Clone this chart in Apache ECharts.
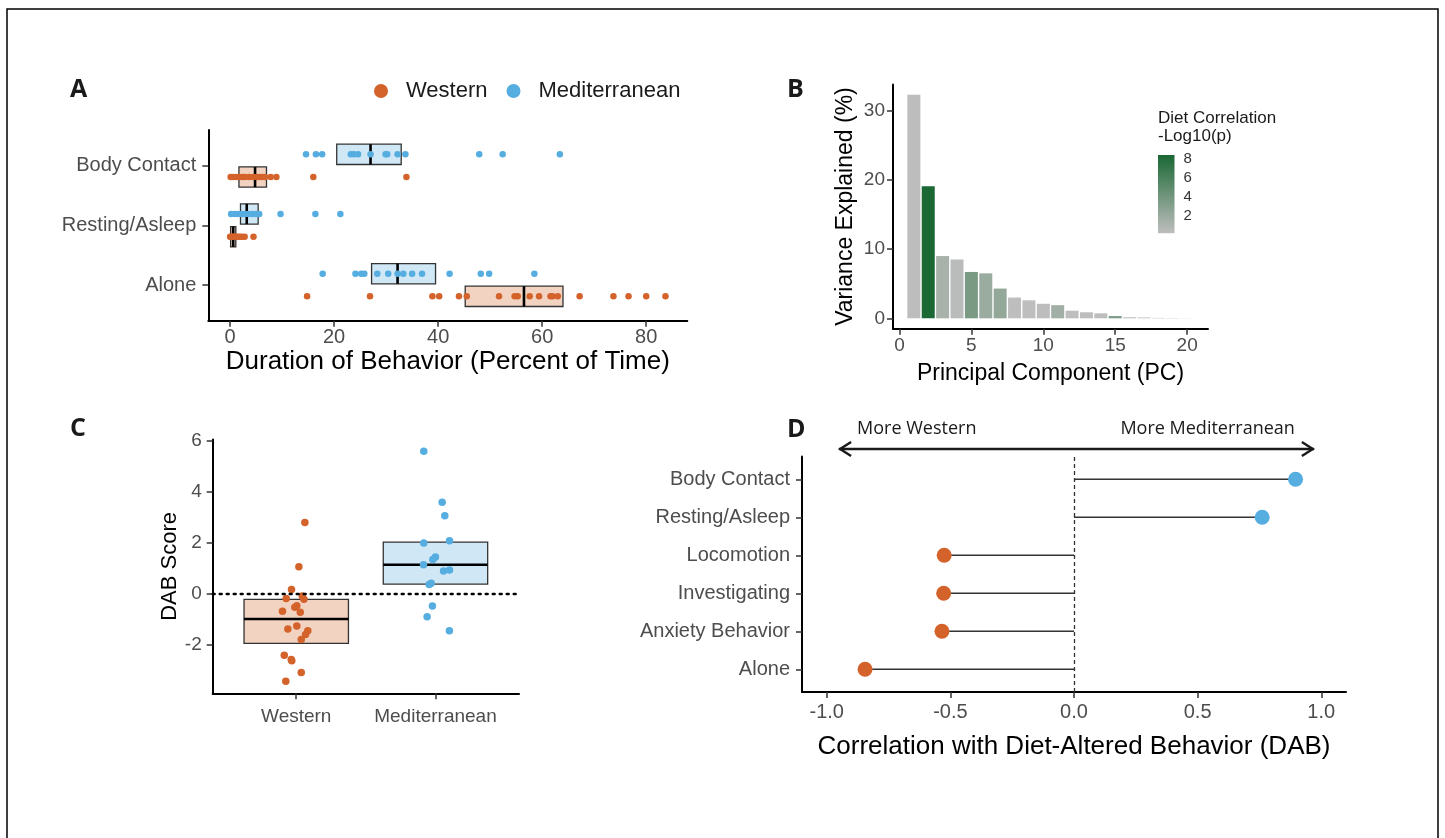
<!DOCTYPE html>
<html>
<head>
<meta charset="utf-8">
<script src="https://cdn.jsdelivr.net/npm/echarts@6/dist/echarts.min.js"></script>
<style>
  html, body { margin: 0; padding: 0; background: #fff; }
  #main { width: 1445px; height: 838px; }
</style>
</head>
<body>
<div id="main"></div>
<script>
// ---- data ----

// A: duration of behaviour (percent of time)
var behaviorsA = ['Alone', 'Resting/Asleep', 'Body Contact'];
var westAlone = [14.8, 26.9, 38.9, 40.2, 44.0, 45.5, 51.7, 54.7, 55.3, 57.6, 59.4, 61.6, 62.0, 63.0, 67.2, 73.7, 76.6, 80.0, 83.7];
var westRest = [0.0, 0.2, 0.4, 0.6, 0.9, 1.2, 1.5, 1.9, 2.3, 2.8, 4.5];
var westBody = [0.1, 0.6, 1.2, 1.8, 2.4, 2.9, 3.7, 4.5, 5.1, 5.6, 6.2, 6.7, 7.8, 8.9, 16.0, 33.9];
var medAlone = [17.8, 24.1, 25.2, 25.8, 28.3, 30.4, 32.2, 33.3, 35.0, 36.9, 42.2, 48.2, 49.8, 58.5];
var medRest = [0.2, 0.9, 1.5, 2.2, 2.8, 3.5, 4.2, 5.0, 5.6, 9.7, 16.4, 21.2];
var medBody = [14.6, 16.5, 17.7, 23.2, 23.8, 24.6, 27.0, 29.9, 30.2, 32.2, 33.7, 47.9, 52.4, 63.4];
// [q1, median, q3] for Alone, Resting/Asleep, Body Contact
var westBoxA = [[45.2, 56.5, 64.0], [0.1, 0.6, 1.1], [1.7, 4.8, 7.0]];
var medBoxA = [[27.2, 32.2, 39.5], [2.0, 3.2, 5.4], [20.5, 27.0, 32.9]];

// B: variance explained per PC, coloured by diet correlation -log10(p)
var pcIndex = [1, 2, 3, 4, 5, 6, 7, 8, 9, 10, 11, 12, 13, 14, 15, 16, 17, 18, 19, 20];
var varExplained = [32.3, 19.1, 9.0, 8.5, 6.7, 6.5, 4.3, 3.0, 2.6, 2.1, 1.9, 1.1, 0.87, 0.72, 0.33, 0.15, 0.12, 0.06, 0.04, 0.02];
var dietLogP = [0.3, 8.35, 1.3, 0.4, 3.6, 2.0, 2.3, 0.2, 0.2, 0.3, 1.6, 0.2, 0.3, 0.3, 3.3, 0.5, 0.3, 0.3, 0.3, 0.3];
var logPRange = [0.2, 8.35];
var colorbarTicks = [2, 4, 6, 8];

// C: DAB score per animal, with horizontal jitter
var dietGroups = ['Western', 'Mediterranean'];
var westDab = [2.81, 1.07, 0.18, -0.17, -0.08, -0.2, -0.67, -0.52, -0.46, -0.71, -1.37, -1.25, -1.44, -1.58, -1.78, -2.4, -2.56, -2.61, -3.07, -3.42];
var westDabJitter = [0.062, 0.019, -0.034, -0.072, 0.043, 0.055, -0.099, -0.01, 0.004, 0.029, -0.06, 0.004, 0.083, 0.067, 0.036, -0.086, -0.036, -0.032, 0.036, -0.075];
var medDab = [5.6, 3.6, 3.07, 2.0, 2.09, 1.45, 1.36, 1.15, 0.9, 0.94, 0.38, 0.42, -0.47, -0.89, -1.44];
var medDabJitter = [-0.084, 0.048, 0.067, -0.084, 0.101, 0, -0.019, -0.086, 0.058, 0.101, -0.045, -0.031, -0.022, -0.06, 0.1];
var westBoxC = [-1.93, -0.98, -0.21];
var medBoxC = [0.39, 1.15, 2.04];

// D: correlation with DAB
var behaviorsD = ['Alone', 'Anxiety Behavior', 'Investigating', 'Locomotion', 'Resting/Asleep', 'Body Contact'];
var corrDab = [-0.845, -0.534, -0.527, -0.525, 0.761, 0.896];
var arrowSpan = [-0.95, 0.97];

// ---- styling ----
var WEST = '#D4622B';
var MED = '#55ADE0';
var WEST_FILL = '#F2D3C2';
var MED_FILL = '#D0E7F5';
var FONT = 'Liberation Sans';
var DODGE = 0.19;
var HALF_A = 0.17;
var HALF_C = 0.375;

function dodge(vals, cat, off) {
	return vals.map(function (v) { return [v, cat + off]; });
}

function axisBase(extra) {
	var o = {
		type: 'value',
		axisLine: { show: true, onZero: false, lineStyle: { color: '#000', width: 2 } },
		axisTick: { show: true, length: 6, lineStyle: { color: '#333', width: 1.5 } },
		axisLabel: { color: '#4D4D4D', fontFamily: FONT, fontSize: 20 },
		splitLine: { show: false },
		nameTextStyle: { color: '#000', fontFamily: FONT, fontSize: 26 },
		nameLocation: 'middle'
	};
	for (var k in extra) {
		if (typeof extra[k] === 'object' && o[k] && !Array.isArray(extra[k])) {
			o[k] = Object.assign({}, o[k], extra[k]);
		} else {
			o[k] = extra[k];
		}
	}
	return o;
}

// crossbar without whiskers (horizontal for A)
function crossbarH(fill) {
	return function (params, api) {
		var y = api.value(0), q1 = api.value(1), md = api.value(2), q3 = api.value(3);
		var a = api.coord([q1, y + HALF_A]);
		var b = api.coord([q3, y - HALF_A]);
		var m1 = api.coord([md, y + HALF_A]);
		var m2 = api.coord([md, y - HALF_A]);
		return {
			type: 'group', children: [
				{ type: 'rect', shape: { x: a[0], y: a[1], width: b[0] - a[0], height: b[1] - a[1] }, style: { fill: fill, stroke: '#333', lineWidth: 1.3 } },
				{ type: 'line', shape: { x1: m1[0], y1: m1[1], x2: m2[0], y2: m2[1] }, style: { stroke: '#000', lineWidth: 2.6 } }
			]
		};
	};
}

// vertical crossbar for C
function crossbarV(fill) {
	return function (params, api) {
		var x = api.value(0), q1 = api.value(1), md = api.value(2), q3 = api.value(3);
		var a = api.coord([x - HALF_C, q3]);
		var b = api.coord([x + HALF_C, q1]);
		var m1 = api.coord([x - HALF_C, md]);
		var m2 = api.coord([x + HALF_C, md]);
		return {
			type: 'group', children: [
				{ type: 'rect', shape: { x: a[0], y: a[1], width: b[0] - a[0], height: b[1] - a[1] }, style: { fill: fill, stroke: '#333', lineWidth: 1.3 } },
				{ type: 'line', shape: { x1: m1[0], y1: m1[1], x2: m2[0], y2: m2[1] }, style: { stroke: '#000', lineWidth: 2.6 } }
			]
		};
	};
}

var chart = echarts.init(document.getElementById('main'));

var option = {
	backgroundColor: '#fff',
	animation: false,
	legend: {
		data: ['Western', 'Mediterranean'],
		left: 369, top: 75,
		icon: 'circle',
		itemWidth: 14, itemHeight: 14, itemGap: 19,
		textStyle: { fontFamily: FONT, fontSize: 22, color: '#1a1a1a', padding: [0, 0, 0, 13] }
	},
	visualMap: {
		type: 'continuous', show: false, seriesIndex: 4, dimension: 2,
		min: logPRange[0], max: logPRange[1],
		inRange: { color: ['#BEBEBE', '#1A6834'] }
	},
	grid: [
		{ left: 208.3, top: 129.9, width: 479, height: 190.9, outerBoundsMode: 'none' },
		{ left: 893, top: 84.4, width: 315, height: 244.3, outerBoundsMode: 'none' },
		{ left: 1158, top: 155, width: 16.5, height: 78.3, outerBoundsMode: 'none' },
		{ left: 212.7, top: 439.5, width: 306.3, height: 253.8, outerBoundsMode: 'none' },
		{ left: 802, top: 456.5, width: 544, height: 235.6, outerBoundsMode: 'none' }
	],
	xAxis: [
		axisBase({
			gridIndex: 0, min: -4.19, max: 87.9,
			name: 'Duration of Behavior (Percent of Time)', nameGap: 23,
			axisTick: { customValues: [0, 20, 40, 60, 80] },
			axisLabel: { customValues: [0, 20, 40, 60, 80], margin: 7 }
		}),
		axisBase({
			gridIndex: 1, min: -0.45, max: 21.45,
			name: 'Principal Component (PC)', nameGap: 33,
			nameTextStyle: { fontSize: 23 },
			axisTick: { customValues: [0, 5, 10, 15, 20] },
			axisLabel: { customValues: [0, 5, 10, 15, 20], margin: 8, fontSize: 19 }
		}),
		{ type: 'value', gridIndex: 2, min: 0, max: 1, show: false },
		axisBase({
			gridIndex: 3, min: 0.4, max: 2.6,
			axisTick: { customValues: [1, 2] },
			axisLabel: {
				customValues: [1, 2], margin: 14, fontSize: 19,
				formatter: function (v) { return dietGroups[Math.round(v) - 1]; }
			}
		}),
		axisBase({
			gridIndex: 4, min: -1.1, max: 1.1,
			name: 'Correlation with Diet-Altered Behavior (DAB)', nameGap: 42,
			axisTick: { customValues: [-1, -0.5, 0, 0.5, 1] },
			axisLabel: {
				customValues: [-1, -0.5, 0, 0.5, 1], margin: 10,
				formatter: function (v) { return v.toFixed(1); }
			}
		})
	],
	yAxis: [
		axisBase({
			gridIndex: 0, min: 0.4, max: 3.6,
			axisTick: { customValues: [1, 2, 3] },
			axisLabel: {
				customValues: [1, 2, 3], margin: 12,
				formatter: function (v) { return behaviorsA[Math.round(v) - 1]; }
			}
		}),
		axisBase({
			gridIndex: 1, min: -1.5, max: 33.8,
			name: 'Variance Explained (%)', nameGap: 36,
			nameTextStyle: { fontSize: 23 },
			axisTick: { customValues: [0, 10, 20, 30] },
			axisLabel: { customValues: [0, 10, 20, 30], margin: 8, fontSize: 19 }
		}),
		{
			type: 'value', gridIndex: 2, min: logPRange[0], max: logPRange[1], position: 'right',
			axisLine: { show: false },
			axisTick: { show: true, inside: true, length: 3, customValues: colorbarTicks, lineStyle: { color: '#fff', width: 1 } },
			axisLabel: { customValues: colorbarTicks, margin: 9, color: '#333', fontFamily: FONT, fontSize: 15 },
			splitLine: { show: false }
		},
		axisBase({
			gridIndex: 3, min: -3.89, max: 6.06,
			name: 'DAB Score', nameGap: 29,
			nameTextStyle: { fontSize: 22 },
			axisTick: { customValues: [-2, 0, 2, 4, 6] },
			axisLabel: { customValues: [-2, 0, 2, 4, 6], margin: 11, fontSize: 19 }
		}),
		axisBase({
			gridIndex: 4, min: 0.4, max: 6.6,
			axisTick: { customValues: [1, 2, 3, 4, 5, 6] },
			axisLabel: {
				customValues: [1, 2, 3, 4, 5, 6], margin: 12,
				formatter: function (v) { return behaviorsD[Math.round(v) - 1]; }
			}
		})
	],
	series: [
		// A boxes
		{
			type: 'custom', name: 'A west box', xAxisIndex: 0, yAxisIndex: 0, z: 1,
			renderItem: crossbarH(WEST_FILL),
			data: westBoxA.map(function (s, i) { return [i + 1 - DODGE].concat(s); })
		},
		{
			type: 'custom', name: 'A med box', xAxisIndex: 0, yAxisIndex: 0, z: 1,
			renderItem: crossbarH(MED_FILL),
			data: medBoxA.map(function (s, i) { return [i + 1 + DODGE].concat(s); })
		},
		// A points
		{
			type: 'scatter', name: 'Western', xAxisIndex: 0, yAxisIndex: 0, z: 3,
			symbolSize: 6.5, itemStyle: { color: WEST, opacity: 1 },
			data: [].concat(dodge(westAlone, 1, -DODGE), dodge(westRest, 2, -DODGE), dodge(westBody, 3, -DODGE))
		},
		{
			type: 'scatter', name: 'Mediterranean', xAxisIndex: 0, yAxisIndex: 0, z: 3,
			symbolSize: 6.5, itemStyle: { color: MED, opacity: 1 },
			data: [].concat(dodge(medAlone, 1, DODGE), dodge(medRest, 2, DODGE), dodge(medBody, 3, DODGE))
		},
		// B bars
		{
			type: 'bar', name: 'PC variance', xAxisIndex: 1, yAxisIndex: 1,
			barWidth: 13, encode: { x: 0, y: 1 },
			data: pcIndex.map(function (pc, i) { return [pc, varExplained[i], dietLogP[i]]; })
		},
		// B colour bar
		{
			type: 'custom', name: 'colorbar', xAxisIndex: 2, yAxisIndex: 2, z: 1,
			renderItem: function (params, api) {
				var top = api.coord([0, api.value(1)]);
				var bot = api.coord([1, api.value(0)]);
				return {
					type: 'rect',
					shape: { x: top[0], y: top[1], width: bot[0] - top[0], height: bot[1] - top[1] },
					style: {
						fill: new echarts.graphic.LinearGradient(0, 0, 0, 1, [
							{ offset: 0, color: '#1A6834' }, { offset: 1, color: '#BEBEBE' }
						])
					}
				};
			},
			data: [logPRange]
		},
		// C boxes
		{
			type: 'custom', name: 'C boxes', xAxisIndex: 3, yAxisIndex: 3, z: 1,
			renderItem: function (params, api) {
				return crossbarV(params.dataIndex === 0 ? WEST_FILL : MED_FILL)(params, api);
			},
			data: [[1].concat(westBoxC), [2].concat(medBoxC)],
			markLine: {
				silent: true, symbol: 'none', label: { show: false },
				lineStyle: { color: '#000', type: [2, 5], width: 2.4, cap: 'round' },
				data: [{ yAxis: 0 }]
			}
		},
		{
			type: 'scatter', name: 'C Western', xAxisIndex: 3, yAxisIndex: 3, z: 3,
			symbolSize: 7.5, itemStyle: { color: WEST, opacity: 1 },
			data: westDab.map(function (v, i) { return [1 + westDabJitter[i], v]; })
		},
		{
			type: 'scatter', name: 'C Mediterranean', xAxisIndex: 3, yAxisIndex: 3, z: 3,
			symbolSize: 7.5, itemStyle: { color: MED, opacity: 1 },
			data: medDab.map(function (v, i) { return [2 + medDabJitter[i], v]; })
		},
		// D lollipop stems
		{
			type: 'custom', name: 'D stems', xAxisIndex: 4, yAxisIndex: 4, z: 2,
			renderItem: function (params, api) {
				var a = api.coord([0, api.value(1)]);
				var b = api.coord([api.value(0), api.value(1)]);
				return { type: 'line', shape: { x1: a[0], y1: a[1], x2: b[0], y2: b[1] }, style: { stroke: '#333', lineWidth: 1.6 } };
			},
			data: corrDab.map(function (v, i) { return [v, i + 1]; }),
			markLine: {
				silent: true, symbol: 'none', label: { show: false },
				lineStyle: { color: '#333', type: [4, 3], width: 1.3 },
				data: [{ xAxis: 0 }]
			}
		},
		{
			type: 'scatter', name: 'D points', xAxisIndex: 4, yAxisIndex: 4, z: 3,
			symbolSize: 15,
			itemStyle: { opacity: 1, color: function (p) { return p.value[0] < 0 ? WEST : MED; } },
			data: corrDab.map(function (v, i) { return [v, i + 1]; })
		},
		// D direction arrow above the panel
		{
			type: 'custom', name: 'D arrow', xAxisIndex: 4, yAxisIndex: 4, z: 4, clip: false, silent: true,
			renderItem: function (params, api) {
				var l = api.coord([api.value(0), 6.6]);
				var r = api.coord([api.value(1), 6.6]);
				var y = l[1] - 7.5;
				var st = { stroke: '#1a1a1a', lineWidth: 2.4, fill: null };
				return {
					type: 'group', children: [
						{ type: 'line', shape: { x1: l[0], y1: y, x2: r[0], y2: y }, style: st },
						{ type: 'polyline', shape: { points: [[l[0] + 12, y - 7], [l[0] + 1, y], [l[0] + 12, y + 7]] }, style: st },
						{ type: 'polyline', shape: { points: [[r[0] - 12, y - 7], [r[0] - 1, y], [r[0] - 12, y + 7]] }, style: st },
						{ type: 'text', x: l[0] + 18, y: y - 20, style: { text: 'More Western', fill: '#1a1a1a', fontFamily: 'Open Sans', fontSize: 18, align: 'left', verticalAlign: 'middle' } },
						{ type: 'text', x: r[0] - 19, y: y - 20, style: { text: 'More Mediterranean', fill: '#1a1a1a', fontFamily: 'Open Sans', fontSize: 18, align: 'right', verticalAlign: 'middle' } }
					]
				};
			},
			data: [arrowSpan]
		}
	],
	graphic: [
		{ type: 'rect', shape: { x: 7, y: 9, width: 1431, height: 845 }, style: { fill: null, stroke: '#000', lineWidth: 1.5 }, silent: true },
		{ type: 'text', left: 70, top: 77, style: { text: 'A', fontFamily: 'Open Sans', fontWeight: 'bold', fontSize: 25, fill: '#1a1a1a' } },
		{ type: 'text', left: 787, top: 77, style: { text: 'B', fontFamily: 'Open Sans', fontWeight: 'bold', fontSize: 25, fill: '#1a1a1a' } },
		{ type: 'text', left: 70, top: 416, style: { text: 'C', fontFamily: 'Open Sans', fontWeight: 'bold', fontSize: 25, fill: '#1a1a1a' } },
		{ type: 'text', left: 787, top: 417, style: { text: 'D', fontFamily: 'Open Sans', fontWeight: 'bold', fontSize: 25, fill: '#1a1a1a' } },
		{ type: 'text', left: 1158, top: 109, style: { text: 'Diet Correlation\n-Log10(p)', fontFamily: FONT, fontSize: 17, lineHeight: 18, fill: '#1a1a1a' } }
	]
};

chart.setOption(option);
</script>
</body>
</html>
